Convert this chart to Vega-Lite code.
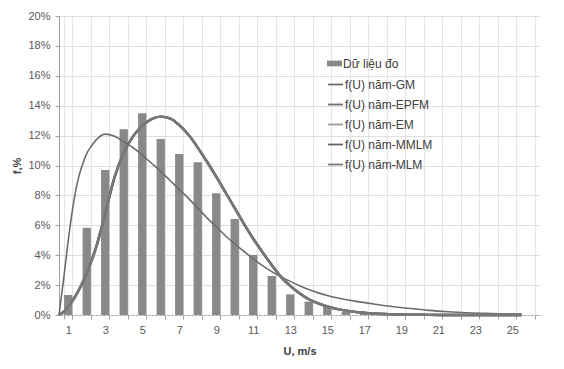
{
  "$schema": "https://vega.github.io/schema/vega-lite/v6.json",
  "width": 481,
  "height": 299,
  "autosize": "none",
  "padding": {"left": 59, "top": 16, "right": 24, "bottom": 54},
  "background": "white",
  "config": {
    "font": "Liberation Sans",
    "view": {"stroke": null},
    "axisY": {"labelOverlap": false, "grid": true, "gridColor": "#dedede", "domainColor": "#a0a0a0", "tickColor": "#a0a0a0", "tickSize": 4,
      "labelFont": "Liberation Sans", "labelFontSize": 11, "labelColor": "#595959", "labelPadding": 5,
      "titleFont": "Liberation Sans", "titleFontSize": 11, "titleFontWeight": "bold", "titleColor": "#404040", "titlePadding": 5},
    "legend": {"padding": 0, "labelFont": "Liberation Sans", "labelFontSize": 12, "labelColor": "#404040", "labelOffset": 1, "rowPadding": 5, "title": null}
  },
  "datasets": {
    "bars": [
      {"bin": 1, "f": 1.34}, {"bin": 2, "f": 5.84}, {"bin": 3, "f": 9.7}, {"bin": 4, "f": 12.42},
      {"bin": 5, "f": 13.49}, {"bin": 6, "f": 11.77}, {"bin": 7, "f": 10.77}, {"bin": 8, "f": 10.21},
      {"bin": 9, "f": 8.14}, {"bin": 10, "f": 6.42}, {"bin": 11, "f": 4.02}, {"bin": 12, "f": 2.61},
      {"bin": 13, "f": 1.38}, {"bin": 14, "f": 0.89}, {"bin": 15, "f": 0.55}, {"bin": 16, "f": 0.22},
      {"bin": 17, "f": 0.1}, {"bin": 18, "f": 0.04}, {"bin": 19, "f": 0}, {"bin": 20, "f": 0},
      {"bin": 21, "f": 0}, {"bin": 22, "f": 0}, {"bin": 23, "f": 0}, {"bin": 24, "f": 0},
      {"bin": 25, "f": 0}, {"bin": 26, "f": 0}
    ],
    "curves": [
      {"U": 0, "GM": 0, "EPFM": 0, "EM": 0, "MMLM": 0, "MLM": 0},
      {"U": 0.25, "GM": 2.4, "EPFM": 0.2, "EM": 0.2, "MMLM": 0.2, "MLM": 0.2},
      {"U": 0.5, "GM": 5.0, "EPFM": 0.55, "EM": 0.55, "MMLM": 0.55, "MLM": 0.55},
      {"U": 0.75, "GM": 7.2, "EPFM": 1.0, "EM": 1.0, "MMLM": 1.0, "MLM": 1.0},
      {"U": 1.0, "GM": 8.9, "EPFM": 1.5, "EM": 1.5, "MMLM": 1.5, "MLM": 1.5},
      {"U": 1.25, "GM": 10.0, "EPFM": 2.1, "EM": 2.1, "MMLM": 2.1, "MLM": 2.1},
      {"U": 1.5, "GM": 10.8, "EPFM": 2.8, "EM": 2.8, "MMLM": 2.8, "MLM": 2.8},
      {"U": 1.75, "GM": 11.3, "EPFM": 3.6, "EM": 3.6, "MMLM": 3.6, "MLM": 3.6},
      {"U": 2.0, "GM": 11.7, "EPFM": 4.5, "EM": 4.5, "MMLM": 4.5, "MLM": 4.5},
      {"U": 2.5, "GM": 12.1, "EPFM": 6.8, "EM": 6.8, "MMLM": 6.8, "MLM": 6.8},
      {"U": 3.0, "GM": 11.95, "EPFM": 9.2, "EM": 9.2, "MMLM": 9.2, "MLM": 9.2},
      {"U": 3.5, "GM": 11.6, "EPFM": 10.85, "EM": 10.85, "MMLM": 10.85, "MLM": 10.85},
      {"U": 4.0, "GM": 11.2, "EPFM": 11.95, "EM": 11.95, "MMLM": 11.95, "MLM": 11.95},
      {"U": 4.5, "GM": 10.7, "EPFM": 12.65, "EM": 12.65, "MMLM": 12.65, "MLM": 12.65},
      {"U": 5.0, "GM": 10.15, "EPFM": 13.1, "EM": 13.1, "MMLM": 13.1, "MLM": 13.1},
      {"U": 5.5, "GM": 9.6, "EPFM": 13.27, "EM": 13.27, "MMLM": 13.27, "MLM": 13.27},
      {"U": 6.0, "GM": 9.0, "EPFM": 13.15, "EM": 13.15, "MMLM": 13.15, "MLM": 13.15},
      {"U": 6.5, "GM": 8.4, "EPFM": 12.7, "EM": 12.7, "MMLM": 12.7, "MLM": 12.7},
      {"U": 7.0, "GM": 7.8, "EPFM": 12.05, "EM": 12.05, "MMLM": 12.05, "MLM": 12.05},
      {"U": 7.5, "GM": 7.15, "EPFM": 11.2, "EM": 11.2, "MMLM": 11.2, "MLM": 11.2},
      {"U": 8.0, "GM": 6.5, "EPFM": 10.25, "EM": 10.25, "MMLM": 10.25, "MLM": 10.25},
      {"U": 8.5, "GM": 5.9, "EPFM": 9.25, "EM": 9.25, "MMLM": 9.25, "MLM": 9.25},
      {"U": 9.0, "GM": 5.3, "EPFM": 8.2, "EM": 8.2, "MMLM": 8.2, "MLM": 8.2},
      {"U": 9.5, "GM": 4.75, "EPFM": 7.15, "EM": 7.15, "MMLM": 7.15, "MLM": 7.15},
      {"U": 10.0, "GM": 4.25, "EPFM": 6.1, "EM": 6.1, "MMLM": 6.1, "MLM": 6.1},
      {"U": 10.5, "GM": 3.75, "EPFM": 5.1, "EM": 5.1, "MMLM": 5.1, "MLM": 5.1},
      {"U": 11.0, "GM": 3.3, "EPFM": 4.2, "EM": 4.2, "MMLM": 4.2, "MLM": 4.2},
      {"U": 11.5, "GM": 2.9, "EPFM": 3.35, "EM": 3.35, "MMLM": 3.35, "MLM": 3.35},
      {"U": 12.0, "GM": 2.55, "EPFM": 2.55, "EM": 2.55, "MMLM": 2.55, "MLM": 2.55},
      {"U": 12.5, "GM": 2.25, "EPFM": 1.95, "EM": 1.95, "MMLM": 1.95, "MLM": 1.95},
      {"U": 13.0, "GM": 1.95, "EPFM": 1.45, "EM": 1.45, "MMLM": 1.45, "MLM": 1.45},
      {"U": 13.5, "GM": 1.7, "EPFM": 1.05, "EM": 1.05, "MMLM": 1.05, "MLM": 1.05},
      {"U": 14.0, "GM": 1.48, "EPFM": 0.78, "EM": 0.78, "MMLM": 0.78, "MLM": 0.78},
      {"U": 14.5, "GM": 1.3, "EPFM": 0.57, "EM": 0.57, "MMLM": 0.57, "MLM": 0.57},
      {"U": 15.0, "GM": 1.15, "EPFM": 0.41, "EM": 0.41, "MMLM": 0.41, "MLM": 0.41},
      {"U": 16.0, "GM": 0.93, "EPFM": 0.21, "EM": 0.21, "MMLM": 0.21, "MLM": 0.21},
      {"U": 17.0, "GM": 0.74, "EPFM": 0.1, "EM": 0.1, "MMLM": 0.1, "MLM": 0.1},
      {"U": 18.0, "GM": 0.57, "EPFM": 0.05, "EM": 0.05, "MMLM": 0.05, "MLM": 0.05},
      {"U": 19.0, "GM": 0.43, "EPFM": 0.02, "EM": 0.02, "MMLM": 0.02, "MLM": 0.02},
      {"U": 20.0, "GM": 0.31, "EPFM": 0.01, "EM": 0.01, "MMLM": 0.01, "MLM": 0.01},
      {"U": 21.0, "GM": 0.22, "EPFM": 0, "EM": 0, "MMLM": 0, "MLM": 0},
      {"U": 22.0, "GM": 0.15, "EPFM": 0, "EM": 0, "MMLM": 0, "MLM": 0},
      {"U": 23.0, "GM": 0.11, "EPFM": 0, "EM": 0, "MMLM": 0, "MLM": 0},
      {"U": 24.0, "GM": 0.08, "EPFM": 0, "EM": 0, "MMLM": 0, "MLM": 0},
      {"U": 25.0, "GM": 0.06, "EPFM": 0, "EM": 0, "MMLM": 0, "MLM": 0}
    ]
  },
  "layer": [
    {
      "data": {"name": "bars"},
      "mark": {"type": "bar"},
      "encoding": {
        "x": {
          "field": "bin", "type": "ordinal",
          "scale": {"paddingInner": 0.55, "paddingOuter": 0.275},
          "axis": {
            "values": [1,2,3,4,5,6,7,8,9,10,11,12,13,14,15,16,17,18,19,20,21,22,23,24,25,26],
            "labelExpr": "datum.value % 2 == 1 ? datum.label : ''",
            "labelOverlap": false,
            "tickBand": "extent",
            "labelAngle": 0,
            "grid": true, "gridColor": "#e4e4e4",
            "domainColor": "#a0a0a0", "domainDash": [2, 2],
            "tickColor": "#a0a0a0", "tickSize": 4,
            "labelFont": "Liberation Sans", "labelFontSize": 11, "labelColor": "#595959", "labelPadding": 5,
            "title": "U, m/s", "titleFont": "Liberation Sans", "titleFontSize": 11, "titleFontWeight": "bold",
            "titleColor": "#404040", "titlePadding": 10
          }
        },
        "y": {
          "field": "f", "type": "quantitative",
          "scale": {"domain": [0, 20], "nice": false},
          "axis": {"values": [0,2,4,6,8,10,12,14,16,18,20], "labelExpr": "datum.value + '%'", "labelOverlap": false, "title": "f,%"}
        },
        "fill": {
          "datum": "Dữ liệu đo", "type": "nominal",
          "scale": {"range": ["#898989"]},
          "legend": {
            "orient": "none", "legendX": 268, "legendY": 40,
            "symbolType": "M-1,-0.38H1V0.38H-1Z", "symbolSize": 225, "symbolStrokeWidth": 0
          }
        }
      }
    },
    {
      "data": {"name": "curves"},
      "transform": [{"fold": ["GM", "EPFM", "EM", "MMLM", "MLM"], "as": ["series", "f"]}],
      "encoding": {
        "x": {"field": "U", "type": "quantitative", "scale": {"domain": [0, 26], "nice": false}, "axis": null},
        "y": {"field": "f", "type": "quantitative",
          "axis": {"values": [0,2,4,6,8,10,12,14,16,18,20], "labelExpr": "datum.value + '%'", "labelOverlap": false, "title": "f,%"}},
        "stroke": {
          "field": "series", "type": "nominal",
          "scale": {"domain": ["GM", "EPFM", "EM", "MMLM", "MLM"], "range": ["#6c6c6c", "#6e6e6e", "#9c9c9c", "#666666", "#777777"]},
          "legend": {
            "orient": "none", "legendX": 268, "legendY": 60,
            "labelExpr": "'f(U) năm-' + datum.label",
            "symbolType": "stroke", "symbolSize": 225, "symbolStrokeWidth": 1.8
          }
        }
      },
      "layer": [
        {"transform": [{"filter": "datum.series == 'GM'"}], "mark": {"type": "line", "interpolate": "monotone", "strokeWidth": 1.6}},
        {"transform": [{"filter": "datum.series != 'GM'"}], "mark": {"type": "line", "interpolate": "monotone", "strokeWidth": 2.4}}
      ]
    }
  ],
  "resolve": {"scale": {"x": "independent"}}
}
